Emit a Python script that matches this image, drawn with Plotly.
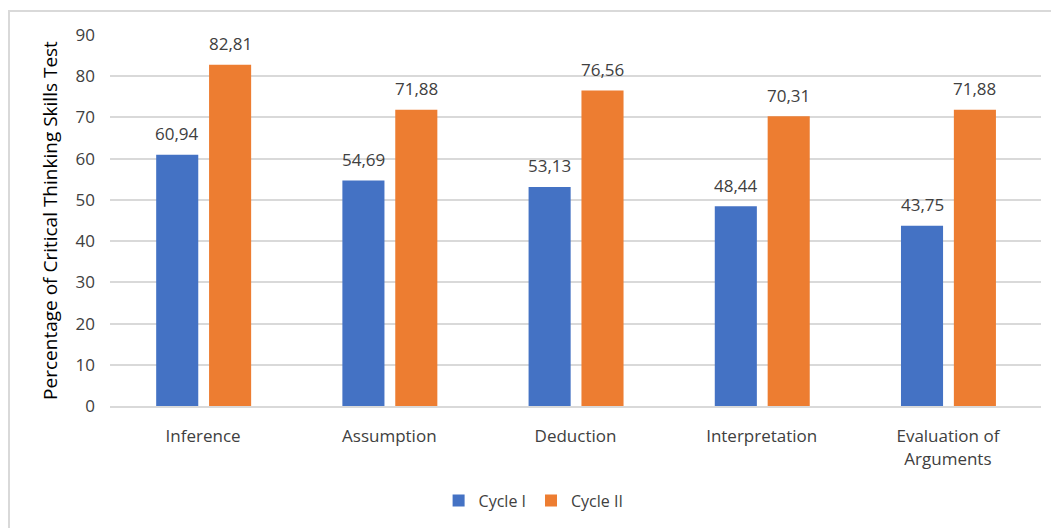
import plotly.graph_objects as go

categories = ["Inference", "Assumption", "Deduction", "Interpretation", "Evaluation of<br>Arguments"]
cycle_1 = [60.94, 54.69, 53.13, 48.44, 43.75]
cycle_2 = [82.81, 71.88, 76.56, 70.31, 71.88]
y_ticks = [0, 10, 20, 30, 40, 50, 60, 70, 80, 90]

def fmt(v):
    return f"{v:.2f}".replace(".", ",")

FONT = "Open Sans"
TEXT = "#404040"
GRID = "#d9d9d9"

L, R, T, B = 110, 10, 35, 122
W, H = 1051, 528
pw, ph = W - L - R, H - T - B
cat_px = pw / len(categories)

BAR_W = 0.226
OFF_1 = -0.252
OFF_2 = 0.032

fig = go.Figure()
fig.add_trace(go.Bar(
    name="Cycle I", x=categories, y=cycle_1,
    marker=dict(color="#4472c4", line=dict(width=0)),
    width=BAR_W, offset=OFF_1,
))
fig.add_trace(go.Bar(
    name="Cycle II", x=categories, y=cycle_2,
    marker=dict(color="#ed7d31", line=dict(width=0)),
    width=BAR_W, offset=OFF_2,
))

# value labels above each bar
annotations = []
for vals, off in ((cycle_1, OFF_1), (cycle_2, OFF_2)):
    shift = (off + BAR_W / 2) * cat_px
    for c, v in zip(categories, vals):
        annotations.append(dict(
            x=c, y=v, xref="x", yref="y", text=fmt(v), showarrow=False,
            xshift=shift, yshift=21, yanchor="middle", xanchor="center",
            font=dict(family=FONT, size=17, color=TEXT),
        ))

fig.update_layout(
    width=W, height=H,
    margin=dict(l=L, r=R, t=T, b=B),
    paper_bgcolor="white", plot_bgcolor="white",
    barmode="overlay",
    font=dict(family=FONT, size=17, color=TEXT),
    showlegend=True,
    legend=dict(orientation="h", x=0.455, xanchor="center", y=-0.255, yanchor="middle",
                font=dict(family=FONT, size=16, color=TEXT),
                traceorder="normal"),
    annotations=annotations,
    xaxis=dict(showgrid=False, showline=True, linecolor=GRID, linewidth=2,
               ticks="", ticklabelstandoff=14,
               tickfont=dict(family=FONT, size=17, color=TEXT)),
    yaxis=dict(range=[0, 90], tickvals=y_ticks, showgrid=True, gridcolor=GRID, gridwidth=2,
               zeroline=False, showline=False, ticks="", ticklabelstandoff=14,
               tickfont=dict(family=FONT, size=17, color=TEXT),
               title=dict(text="Percentage of Critical Thinking Skills Test",
                          font=dict(family=FONT, size=19, color="#000000"), standoff=12)),
    shapes=[dict(type="rect", xref="paper", yref="paper",
                 x0=(9 - L) / pw, x1=(W + 20 - L) / pw,
                 y0=-(B + 20) / ph, y1=(H - B - 11) / ph,
                 line=dict(color=GRID, width=2), fillcolor="rgba(0,0,0,0)", layer="below")],
)

fig.write_html("out.html")
